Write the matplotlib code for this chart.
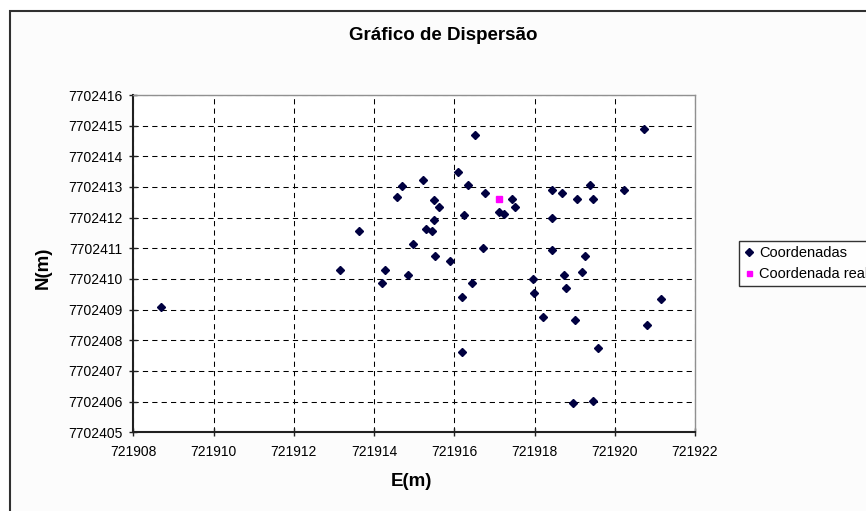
import matplotlib
matplotlib.use("Agg")
import matplotlib.pyplot as plt
from matplotlib.patches import Rectangle
from matplotlib.ticker import MultipleLocator, FormatStrFormatter

plt.rcParams['font.family'] = ['Liberation Sans', 'DejaVu Sans']

# dados
east = [721908.69, 721913.16, 721913.63, 721914.19, 721914.27, 721914.57,
        721914.70, 721914.85, 721914.98, 721915.21, 721915.29, 721915.45,
        721915.49, 721915.49, 721915.53, 721915.61, 721915.89, 721916.09,
        721916.20, 721916.20, 721916.25, 721916.33, 721916.44, 721916.52,
        721916.72, 721916.76, 721917.12, 721917.24, 721917.43, 721917.51,
        721917.95, 721917.99, 721918.20, 721918.44, 721918.43, 721918.43,
        721918.69, 721918.74, 721918.78, 721918.97, 721919.01, 721919.05,
        721919.18, 721919.26, 721919.38, 721919.45, 721919.45, 721919.57,
        721920.24, 721920.72, 721920.80, 721921.15]
north = [7702409.08, 7702410.28, 7702411.57, 7702409.86, 7702410.28, 7702412.66,
         7702413.02, 7702410.13, 7702411.15, 7702413.24, 7702411.63, 7702411.56,
         7702412.57, 7702411.93, 7702410.75, 7702412.35, 7702410.59, 7702413.49,
         7702409.40, 7702407.63, 7702412.09, 7702413.07, 7702409.86, 7702414.69,
         7702411.00, 7702412.81, 7702412.18, 7702412.12, 7702412.61, 7702412.35,
         7702409.99, 7702409.55, 7702408.77, 7702412.91, 7702411.99, 7702410.94,
         7702412.81, 7702410.13, 7702409.71, 7702405.96, 7702408.66, 7702412.61,
         7702410.22, 7702410.75, 7702413.07, 7702412.61, 7702406.02, 7702407.74,
         7702412.91, 7702414.89, 7702408.51, 7702409.34]
real_e = [721917.12]
real_n = [7702412.61]

fig = plt.figure(figsize=(8.66, 5.11), dpi=100, facecolor='white')

# moldura externa do grafico
frame = Rectangle((9.5 / 866, -0.2), 1.2, 1.2 - 10.5 / 511,
                  transform=fig.transFigure, facecolor='#fcfcfc',
                  edgecolor='#303030', linewidth=1.5, zorder=-5)
fig.patches.append(frame)

ax = fig.add_axes([133.3 / 866, 1 - 432.3 / 511, 561.7 / 866, 337.3 / 511])
ax.set_zorder(2)
ax.set_facecolor('white')

ax.plot(east, north, linestyle='none', marker='D', ms=4.5,
        color='#000040', label='Coordenadas', zorder=3)
ax.plot(real_e, real_n, linestyle='none', marker='s', ms=4.5,
        color='#ff00ff', label='Coordenada real', zorder=4)

ax.set_xlim(721908, 721922)
ax.set_ylim(7702405, 7702416)
ax.xaxis.set_major_locator(MultipleLocator(2))
ax.yaxis.set_major_locator(MultipleLocator(1))
ax.xaxis.set_major_formatter(FormatStrFormatter('%d'))
ax.yaxis.set_major_formatter(FormatStrFormatter('%d'))

ax.grid(True, color='black', linestyle=(0, (5, 4)), linewidth=0.75)
ax.set_axisbelow(True)

for s in ['left', 'bottom']:
    ax.spines[s].set_color('#202020')
    ax.spines[s].set_linewidth(1.5)
for s in ['top', 'right']:
    ax.spines[s].set_color('#909090')
    ax.spines[s].set_linewidth(1.0)

ax.tick_params(direction='inout', length=6, width=1, color='#202020',
               labelsize=10, labelcolor='black')
ax.tick_params(axis='x', pad=6)
ax.tick_params(axis='y', pad=5)
ax.tick_params(top=False, right=False)

fig.text(443.5 / 866, 1 - 35 / 511, 'Gráfico de Dispersão', ha='center',
         va='center', fontsize=13.5, fontweight='bold')
fig.text(411.7 / 866, 1 - 481.7 / 511, 'E(m)', ha='center', va='center',
         fontsize=13.5, fontweight='bold')
fig.text(43 / 866, 1 - 268 / 511, 'N(m)', ha='center', va='center',
         rotation=90, fontsize=13.5, fontweight='bold')

leg = fig.legend(loc='upper left', bbox_to_anchor=(739 / 866, 1 - 241 / 511),
                 bbox_transform=fig.transFigure, fontsize=10.5,
                 frameon=True, fancybox=False, edgecolor='black',
                 handlelength=0.7, handletextpad=0.35, borderpad=0.35,
                 labelspacing=0.45, borderaxespad=0, markerscale=0.8)
leg.get_frame().set_linewidth(1.0)
leg.get_frame().set_facecolor('white')

fig.savefig('out.png', dpi=100)
